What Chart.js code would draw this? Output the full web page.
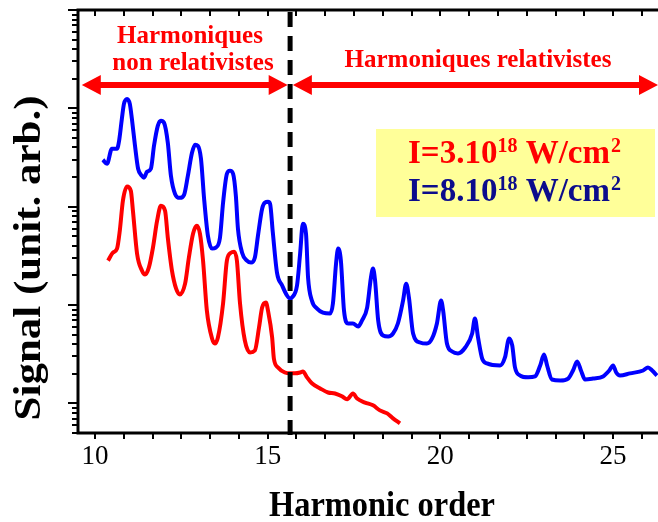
<!DOCTYPE html>
<html>
<head>
<meta charset="utf-8">
<script src="https://cdn.jsdelivr.net/npm/chart.js@4.4.1/dist/chart.umd.min.js"></script>
<style>
  html, body { margin: 0; padding: 0; background: #fff; }
  #wrap { width: 658px; height: 522px; }
</style>
</head>
<body>
<div id="wrap"><canvas id="harmonics-chart" width="658" height="522"></canvas></div>
<script>
// Harmonic spectra, signal in arbitrary units (log scale)
const blueOrder = [
  10.23, 10.35, 10.49, 10.64, 10.70, 10.78, 10.84, 10.93, 11.01, 11.07,
  11.16, 11.25, 11.36, 11.42, 11.51, 11.62, 11.71, 11.82, 11.91, 12.00,
  12.11, 12.20, 12.32, 12.46, 12.58, 12.69, 12.81, 12.90, 12.98, 13.07,
  13.16, 13.27, 13.39, 13.50, 13.62, 13.71, 13.82, 13.91, 14.00, 14.08,
  14.14, 14.26, 14.40, 14.52, 14.63, 14.72, 14.84, 14.92, 15.01, 15.07,
  15.15, 15.27, 15.42, 15.56, 15.65, 15.70, 15.85, 15.94, 16.02, 16.11,
  16.17, 16.28, 16.43, 16.60, 16.81, 16.89, 16.98, 17.04, 17.12, 17.21,
  17.33, 17.47, 17.62, 17.73, 17.88, 17.99, 18.05, 18.11, 18.20, 18.34,
  18.49, 18.63, 18.77, 18.92, 19.01, 19.09, 19.21, 19.41, 19.61, 19.76,
  19.90, 20.02, 20.08, 20.19, 20.34, 20.51, 20.72, 20.92, 21.00, 21.09,
  21.21, 21.35, 21.73, 21.87, 21.99, 22.08, 22.16, 22.31, 22.54, 22.74,
  22.89, 23.00, 23.09, 23.23, 23.47, 23.70, 23.84, 23.96, 24.07, 24.19,
  24.42, 24.71, 24.89, 25.00, 25.09, 25.20, 25.49, 25.87, 26.01, 26.13,
  26.27
];
const blueSignal = [
  300, 273, 388, 388, 468, 782, 1111, 1248, 1111, 782,
  416, 243, 206, 197, 227, 243, 416, 664, 747, 713,
  446, 206, 135, 123, 132, 206, 353, 426, 416, 307,
  121, 50.8, 37.5, 38.4, 48.4, 110, 216, 232, 216, 129,
  59.8, 34.1, 28.3, 27.0, 30.4, 50.8, 95.4, 110, 112, 107,
  54.5, 21.4, 15.8, 12.5, 11.6, 11.9, 15.8, 33.3, 67.2, 53.2,
  19.0, 11.1, 9.21, 8.39, 8.20, 10.4, 26.4, 37.5, 28.3, 8.79,
  6.49, 6.49, 6.05, 6.96, 9.43, 19.0, 23.5, 17.7, 6.96, 4.90,
  4.79, 5.14, 6.49, 11.1, 16.5, 11.9, 5.14, 4.16, 4.06, 4.57,
  6.49, 11.1, 8.79, 4.06, 3.37, 3.22, 3.70, 5.14, 7.29, 4.68,
  2.86, 2.55, 2.43, 2.93, 4.57, 3.88, 2.32, 1.92, 1.84, 1.88,
  2.43, 3.14, 2.43, 1.75, 1.71, 1.79, 2.16, 2.67, 2.16, 1.75,
  1.79, 1.88, 2.16, 2.43, 2.06, 1.92, 2.02, 2.16, 2.32, 2.16,
  1.92
];

const redOrder = [
  10.38, 10.52, 10.64, 10.72, 10.81, 10.93, 11.04, 11.10, 11.22, 11.36,
  11.45, 11.56, 11.68, 11.80, 11.91, 12.03, 12.11, 12.23, 12.35, 12.46,
  12.61, 12.72, 12.84, 12.95, 13.04, 13.13, 13.24, 13.39, 13.47, 13.56,
  13.71, 13.82, 13.94, 14.03, 14.11, 14.20, 14.34, 14.49, 14.63, 14.75,
  14.84, 14.95, 15.01, 15.13, 15.18, 15.30, 15.50, 15.65, 15.79, 15.94,
  16.02, 16.14, 16.28, 16.52, 16.75, 16.95, 17.15, 17.30, 17.47, 17.59,
  17.82, 18.05, 18.25, 18.46, 18.63, 18.83
];
const redSignal = [
  28.3, 34.1, 37.5, 57.1, 115, 160, 145, 91.0, 33.3, 22.4,
  20.4, 24.0, 38.4, 72.1, 102, 91.0, 48.4, 22.4, 14.7, 12.8,
  16.5, 30.4, 53.2, 64.1, 53.2, 28.3, 8.79, 4.57, 4.06, 4.68,
  10.4, 28.3, 34.1, 34.9, 28.3, 10.4, 4.36, 3.30, 3.45, 5.91,
  9.43, 10.6, 8.79, 4.68, 2.86, 2.32, 2.06, 2.02, 2.02, 2.06,
  2.11, 1.84, 1.60, 1.42, 1.29, 1.26, 1.18, 1.10, 1.26, 1.12,
  1.02, 0.955, 0.849, 0.791, 0.705, 0.627
];

// axis ranges and annotation positions (harmonic order)
const xMin = 9.51, xMax = 26.3;
const yMin = 0.5, yMax = 10000;
const xLabelStep = 5;
const xMinorStep = 5 / 6;
const dividerOrder = 15.65;
const nonRelArrow = [9.62, 15.58];
const relArrow = [15.73, 26.3];

const SERIF = '"Liberation Serif", "Times New Roman", serif';

function toPoints(xs, ys) {
  return xs.map((x, i) => ({ x: x, y: ys[i] }));
}

function drawDoubleArrow(ctx, x1, x2, y) {
  const head = 19, half = 10, shaft = 3;
  ctx.beginPath();
  ctx.moveTo(x1, y);
  ctx.lineTo(x1 + head, y - half);
  ctx.lineTo(x1 + head, y - shaft);
  ctx.lineTo(x2 - head, y - shaft);
  ctx.lineTo(x2 - head, y - half);
  ctx.lineTo(x2, y);
  ctx.lineTo(x2 - head, y + half);
  ctx.lineTo(x2 - head, y + shaft);
  ctx.lineTo(x1 + head, y + shaft);
  ctx.lineTo(x1 + head, y + half);
  ctx.closePath();
  ctx.fill();
}

// "I=3.10^18 W/cm^2" with raised exponents
function drawIntensity(ctx, x, y, base, color) {
  const big = 'bold 33px ' + SERIF;
  const small = 'bold 20px ' + SERIF;
  ctx.fillStyle = color;
  ctx.textAlign = 'left';
  ctx.textBaseline = 'alphabetic';
  let pos = x;
  ctx.font = big;
  ctx.fillText(base, pos, y);
  pos += ctx.measureText(base).width;
  ctx.font = small;
  ctx.fillText('18', pos, y - 11);
  pos += ctx.measureText('18').width;
  ctx.font = big;
  ctx.fillText(' W/cm', pos, y);
  pos += ctx.measureText(' W/cm').width + 1;
  ctx.font = small;
  ctx.fillText('2', pos, y - 11);
}

const decorPlugin = {
  id: 'decor',
  beforeDatasetsDraw(chart) {
    const ctx = chart.ctx;
    ctx.save();
    ctx.fillStyle = '#ffff99';
    ctx.fillRect(376, 129, 279, 88);
    ctx.restore();
  },
  afterDatasetsDraw(chart) {
    const ctx = chart.ctx;
    const area = chart.chartArea;
    const xs = chart.scales.x;
    const ys = chart.scales.y;
    ctx.save();

    // frame: left, bottom and top lines
    ctx.strokeStyle = '#000';
    ctx.lineWidth = 3;
    ctx.beginPath();
    ctx.moveTo(area.right, area.top);
    ctx.lineTo(area.left, area.top);
    ctx.lineTo(area.left, area.bottom);
    ctx.lineTo(area.right, area.bottom);
    ctx.stroke();

    // x tick marks, out at the bottom, in at the top
    ctx.lineWidth = 2;
    ctx.beginPath();
    for (let j = -2; j < 30; j++) {
      const v = 10 + j * xMinorStep;
      if (v < xMin || v > xMax) continue;
      const px = Math.round(xs.getPixelForValue(v));
      ctx.moveTo(px, area.bottom);
      ctx.lineTo(px, area.bottom + 6);
      ctx.moveTo(px, area.top);
      ctx.lineTo(px, area.top + 6);
    }
    // log y tick marks
    for (let d = -1; d <= 4; d++) {
      for (let k = 1; k <= 9; k++) {
        const v = k * Math.pow(10, d);
        if (v < yMin || v > yMax) continue;
        const py = Math.round(ys.getPixelForValue(v));
        ctx.moveTo(area.left, py);
        ctx.lineTo(area.left - (k === 1 ? 10 : 6), py);
      }
    }
    ctx.stroke();

    // dashed divider between the two regimes
    const dx = xs.getPixelForValue(dividerOrder);
    ctx.lineWidth = 5;
    ctx.setLineDash([15, 9]);
    ctx.beginPath();
    ctx.moveTo(dx, area.top + 2);
    ctx.lineTo(dx, area.bottom + 8);
    ctx.stroke();
    ctx.setLineDash([]);

    // arrows and region labels
    ctx.fillStyle = '#ff0000';
    const arrowY = area.top + 75;
    drawDoubleArrow(ctx, xs.getPixelForValue(nonRelArrow[0]), xs.getPixelForValue(nonRelArrow[1]), arrowY);
    drawDoubleArrow(ctx, xs.getPixelForValue(relArrow[0]), xs.getPixelForValue(relArrow[1]), arrowY);

    ctx.font = 'bold 25px ' + SERIF;
    ctx.textAlign = 'center';
    ctx.textBaseline = 'alphabetic';
    ctx.fillText('Harmoniques', 190, 43);
    ctx.fillText('non relativistes', 193, 70);
    ctx.fillText('Harmoniques relativistes', 478, 67);

    // intensities
    drawIntensity(ctx, 408, 163, 'I=3.10', '#ff0000');
    drawIntensity(ctx, 408, 201, 'I=8.10', '#0c0c8c');

    // axis titles, slightly condensed like the original
    ctx.fillStyle = '#000';
    ctx.textAlign = 'center';
    ctx.save();
    ctx.translate(382, 516);
    ctx.scale(0.9, 1);
    ctx.font = 'bold 36px ' + SERIF;
    ctx.fillText('Harmonic order', 0, 0);
    ctx.restore();

    ctx.translate(30, 258);
    ctx.rotate(-Math.PI / 2);
    ctx.scale(1, 0.9);
    ctx.textBaseline = 'middle';
    ctx.font = 'bold 43px ' + SERIF;
    ctx.fillText('Signal (unit. arb.)', 0, 0);

    ctx.restore();
  }
};

const ctx = document.getElementById('harmonics-chart').getContext('2d');

new Chart(ctx, {
  type: 'line',
  data: {
    datasets: [
      {
        label: 'I=3.10^18 W/cm^2',
        data: toPoints(redOrder, redSignal),
        borderColor: '#ff0000',
        borderWidth: 4,
        pointRadius: 0,
        cubicInterpolationMode: 'monotone',
        fill: false,
      },
      {
        label: 'I=8.10^18 W/cm^2',
        data: toPoints(blueOrder, blueSignal),
        borderColor: '#0000ff',
        borderWidth: 4,
        pointRadius: 0,
        cubicInterpolationMode: 'monotone',
        fill: false,
      },
    ],
  },
  options: {
    responsive: false,
    animation: false,
    layout: { padding: { top: 10, right: 0, left: 0, bottom: 0 } },
    plugins: {
      legend: { display: false },
      tooltip: { enabled: false },
    },
    scales: {
      x: {
        type: 'linear',
        min: xMin,
        max: xMax,
        grid: { display: false, drawTicks: false },
        border: { display: false },
        ticks: {
          stepSize: xLabelStep,
          includeBounds: false,
          autoSkip: false,
          maxRotation: 0,
          padding: 8,
          color: '#000',
          font: { family: SERIF, size: 27 },
        },
        afterFit(scale) { scale.height = 89; },
      },
      y: {
        type: 'logarithmic',
        min: yMin,
        max: yMax,
        grid: { display: false, drawTicks: false },
        border: { display: false },
        ticks: { display: false },
        afterFit(scale) { scale.width = 78; },
      },
    },
  },
  plugins: [decorPlugin],
});
</script>
</body>
</html>
